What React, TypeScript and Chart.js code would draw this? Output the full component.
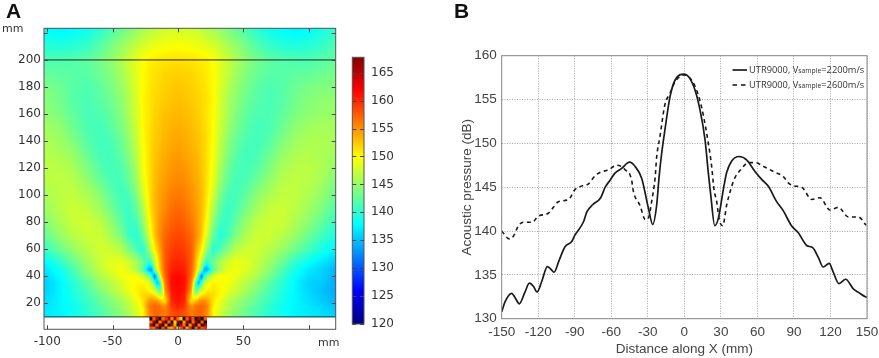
import React, { useEffect, useRef } from "react";
import { Chart, registerables } from "chart.js";
Chart.register(...registerables);

// Panel A: sound field, dB. The field is symmetric about the beam axis, so one
// half is read from the picture: rows follow `depths`, columns follow `offsets`.
const offsets = [0, 5, 10, 12, 14, 16, 18, 20, 22, 27, 32, 38, 44, 52, 60, 70, 80, 90, 100, 110, 120];
const depths = [10, 14, 18, 22, 26, 30, 35, 40, 45, 50, 60, 70, 80, 90, 100, 110, 120, 130, 140, 150, 160, 170, 180, 190, 200, 210, 224];
const fieldRows = [
  [158.5, 158, 156, 156, 156.5, 157, 157, 156, 155, 150, 147.5, 145.5, 144, 142.5, 141, 139.5, 138.5, 137.5, 137, 136.5, 136],
  [159, 158, 156, 156.5, 157, 157, 157, 156.3, 155.5, 150, 148, 146, 144.5, 143, 141.5, 139.8, 138.5, 137.5, 137, 136.5, 135.5],
  [160.5, 159.3, 155, 155.5, 156.5, 157, 157, 156.5, 156, 150.5, 148.5, 146.5, 145, 143.5, 142, 140, 138.5, 137.5, 136.8, 136, 135],
  [161, 160, 151, 151.5, 153, 154.5, 155, 155, 154.5, 151, 149, 147, 145.5, 144, 142.5, 140.5, 138.8, 137.5, 136.5, 135.5, 134.5],
  [161.3, 160.3, 153, 148, 147, 149.5, 151, 151.8, 152, 151.5, 150, 148, 146.5, 145, 143, 141, 139, 137.5, 136.3, 135.3, 134.3],
  [161.5, 160.8, 155, 146, 141, 145, 147, 148.8, 150, 151, 150.3, 149, 147.5, 145.7, 144, 141.5, 139.3, 137.5, 136, 135, 134],
  [161.7, 161.2, 156, 150, 138, 134.5, 142, 146.5, 149, 150.3, 150, 149.3, 148, 146.3, 144.8, 142, 139.8, 137.5, 135.8, 135.5, 134],
  [161.5, 161, 157, 154, 149, 138, 130.5, 139, 144, 148, 149.8, 149.7, 149, 147.5, 146, 143.5, 140.5, 138, 136.5, 135.8, 134.2],
  [160.7, 160.3, 157.5, 155, 152, 149, 144, 133.5, 133.5, 142, 146, 148.5, 149.3, 148.3, 146.8, 144.5, 141.5, 138.7, 137, 136, 134.5],
  [160.2, 159.8, 157.5, 155.5, 152.5, 149.5, 146, 143, 139.5, 143.5, 146, 148, 149, 148.5, 147.2, 145.2, 142.7, 140, 138, 136.8, 135.5],
  [159.3, 158.8, 157.5, 156, 154, 152.3, 150.3, 148, 145, 139.5, 141.5, 144, 146.5, 147.5, 147.7, 146.5, 145, 143, 141, 139, 137.5],
  [158.5, 158, 157, 156.2, 155.2, 154, 152.4, 150.3, 148, 142.5, 139.5, 141, 144, 146, 147.5, 147.5, 146.5, 145, 143, 141, 139],
  [157.7, 157.2, 156.2, 155.6, 154.8, 153.9, 152.8, 151.3, 149.5, 144.5, 141, 140.5, 142.5, 145, 146.8, 147.6, 147.4, 146, 144.5, 142.5, 140.5],
  [157, 156.5, 155.5, 155, 154.5, 153.8, 153, 151.9, 150.5, 146, 142.5, 140.5, 141.5, 143.5, 145.5, 147, 147.5, 146.6, 145.4, 143.8, 141.9],
  [156.2, 155.8, 155, 154.6, 154.2, 153.7, 153, 152.1, 151, 147.5, 143.8, 141.2, 141, 142.5, 144.5, 146, 147, 146.8, 146, 144.8, 143],
  [155.5, 155.2, 154.5, 154.2, 153.8, 153.4, 152.8, 152.1, 151.2, 148.8, 145, 142.5, 141, 141.5, 143, 145, 146.5, 146.9, 146.5, 145.5, 144],
  [155, 154.7, 154.1, 153.8, 153.5, 153.1, 152.6, 152, 151.2, 149.2, 145.8, 143.2, 141.5, 141, 142, 144, 145.8, 146.6, 146.7, 146, 144.8],
  [154.5, 154.2, 153.7, 153.5, 153.2, 152.8, 152.4, 151.9, 151.2, 149.5, 146.5, 144, 142.2, 141, 141.2, 143, 145, 146, 146.3, 146, 145.5],
  [154, 153.8, 153.3, 153.1, 152.8, 152.5, 152.2, 151.8, 151.2, 149.7, 147, 144.6, 142.8, 141.3, 141, 142, 144, 145.3, 146, 146, 145.8],
  [153.6, 153.4, 153, 152.8, 152.5, 152.3, 152, 151.6, 151.2, 149.9, 147.5, 145.2, 143.5, 142, 141, 141.5, 143, 144.7, 145.5, 145.7, 145.6],
  [153.2, 153, 152.7, 152.5, 152.3, 152, 151.8, 151.4, 151, 150, 147.8, 145.8, 144, 142.5, 141.5, 141.3, 142.5, 143.8, 144.5, 145, 145],
  [152.8, 152.6, 152.3, 152.2, 152, 151.8, 151.6, 151.3, 151, 150, 148, 146, 144.5, 143, 142, 141.3, 142, 143.3, 144.2, 144.6, 144.7],
  [152.4, 152.3, 152, 151.9, 151.7, 151.5, 151.3, 151.1, 150.8, 150, 148.3, 146.5, 145, 143.5, 142.3, 141.5, 142, 143, 143.6, 144, 144],
  [152, 151.9, 151.7, 151.6, 151.4, 151.3, 151.1, 150.9, 150.7, 149.9, 148.5, 147, 145.5, 144, 143, 142, 142, 142.3, 142.5, 143, 143.5],
  [151.2, 151.1, 151, 151, 150.9, 150.8, 150.7, 150.6, 150.5, 149.7, 148.6, 147.3, 146, 144.5, 143.3, 142.3, 141.8, 141.5, 141.5, 142, 142.5],
  [149.8, 149.6, 149.4, 149.3, 149.2, 149.1, 149, 148.8, 148.6, 148, 147.2, 146, 145, 143.5, 142, 140.5, 139.8, 139.5, 139.8, 140.5, 141.5],
  [147.5, 147.5, 147.3, 147.2, 147, 146.8, 146.6, 146.3, 146, 145.5, 144.5, 143.5, 142.5, 141, 139.5, 138.3, 137.6, 137.2, 137.5, 139, 140],
];

// Transducer block under the field: 0 marks the black cells.
const transducerX = [-20.6, -18.3, -16, -13.7, -11.4, -9.1, -6.8, -4.5, -2.2, 0.1, 2.4, 4.7, 7, 9.3, 11.6, 13.9, 16.2, 18.5, 20.8];
const transducerY = [2, 4.2, 6.4, 8.6];
const transducerRows = [
  [158, 157, 165, 0, 158, 166, 155, 154, 160, 146, 158, 165, 154, 160, 0, 157, 165, 158, 160],
  [165, 0, 157, 166, 0, 156, 0, 165, 154, 0, 165, 157, 0, 155, 165, 0, 156, 0, 165],
  [157, 166, 0, 156, 164, 0, 157, 0, 151, 166, 0, 155, 165, 0, 157, 166, 0, 157, 0],
  [0, 158, 165, 0, 157, 160, 165, 156, 165, 157, 152, 0, 158, 165, 158, 0, 165, 0, 158],
];

const axisAxTicks = ["-100", "-50", "0", "50"];
const axisAyHiddenTicks = ["220"];
const colorbarRange: [number, number] = [120, 167.76];

// Panel B: acoustic pressure against distance along X.
const solidX = [-150, -147, -141.8, -139, -135.5, -131, -127.3, -124, -121, -117, -112.5, -110, -107, -103, -98, -92.5, -90, -83, -80, -75.3, -68.7, -65, -61, -57, -51.5, -45, -40.6, -35, -29.5, -26, -22.7, -20.8, -18.6, -16, -11.8, -7.7, 0, 7.4, 12.9, 17, 19.7, 21.6, 25, 28, 32.6, 34.8, 38.9, 45, 51.3, 58, 63.5, 69, 75.8, 81.3, 88, 93.6, 100.5, 105.4, 110, 114, 119, 122, 127, 132.5, 138.8, 143, 148.6, 150];
const solidY = [130.8, 132, 132.9, 132.4, 131.7, 133, 134.05, 133.7, 133.05, 134.3, 135.95, 135.7, 135.3, 136.6, 138.2, 138.8, 139.5, 141, 142.2, 143, 143.8, 145, 145.8, 146.6, 147.15, 147.85, 147.4, 146, 142.6, 140.75, 143, 146.1, 148.9, 151.5, 155.3, 157.2, 157.9, 156.6, 153.8, 150.4, 146.6, 144.2, 140.6, 141.5, 145.2, 146.7, 148, 148.5, 148.1, 146.8, 145.9, 145.1, 143.35, 142.3, 140.6, 139.8, 138.35, 138.1, 137, 135.9, 136.3, 135.4, 134, 134.5, 133.4, 133, 132.5, 132.45];
const dashedX = [-150, -143.7, -140.4, -136.3, -132, -125, -120, -112, -107.6, -103.5, -95, -90, -84, -79, -73.4, -69, -62, -55.6, -48.7, -43, -42.4, -36.4, -32, -29.5, -26.8, -24, -22.7, -20, -16, -11.8, -7.7, 0, 6, 11.5, 15.6, 19.7, 22.5, 24.4, 26.5, 28.7, 31.5, 34.8, 38.9, 41.6, 45.7, 52.6, 58, 66, 74.5, 81.3, 85.4, 89.5, 96.4, 104.6, 111.4, 119.6, 126.5, 134.7, 143, 149.2];
const dashedY = [140, 139.1, 139.4, 140.6, 141, 141, 141.7, 142, 142.7, 143.35, 143.6, 144.7, 145.15, 145.35, 146.3, 146.7, 147, 147.5, 147, 145.6, 144.9, 142.9, 141.3, 141.5, 143.4, 146.1, 148.5, 150.8, 154.4, 155.7, 157, 157.8, 157.2, 155.5, 153.2, 150, 147.3, 144.7, 143.4, 141.3, 140.6, 143, 145.1, 146.1, 146.9, 147.8, 147.8, 147.3, 146.7, 146.2, 145.5, 145.15, 145, 143.6, 143.8, 142.4, 142.7, 141.6, 141.6, 140.65];
const legendSolid = ["UTR9000, V", "sample", "=2200m/s"];
const legendDashed = ["UTR9000, V", "sample", "=2600m/s"];

const zip = (xs: number[], ys: number[]) => xs.map((x, i) => ({ x, y: ys[i] }));

function jet(v: number): [number, number, number] {
  const t = Math.min(1, Math.max(0, (v - colorbarRange[0]) / (colorbarRange[1] - colorbarRange[0])));
  const c = (d: number) => Math.round(255 * Math.min(1, Math.max(0, 1.5 - Math.abs(4 * t - d))));
  return [c(3), c(2), c(1)];
}
const jetCss = (v: number) => (v === 0 ? "#1c0800" : `rgb(${jet(v).join(",")})`);

function bracket(list: number[], v: number) {
  let i = 0;
  while (i < list.length - 2 && list[i + 1] < v) i++;
  const f = Math.min(1, Math.max(0, (v - list[i]) / (list[i + 1] - list[i])));
  return [i, f];
}

const fieldPlugin = {
  id: "fieldPaint",
  beforeDatasetsDraw(chart: any) {
    const { ctx, chartArea: a, scales } = chart;
    const w = Math.round(a.right - a.left), h = Math.round(a.bottom - a.top);
    const off = document.createElement("canvas");
    off.width = w; off.height = h;
    const octx = off.getContext("2d")!;
    const img = octx.createImageData(w, h);
    const colX = Array.from({ length: w }, (_, px) => bracket(offsets, Math.abs(scales.x.getValueForPixel(a.left + px + 0.5))));
    for (let py = 0; py < h; py++) {
      const depth = scales.y.getValueForPixel(a.top + py + 0.5);
      if (depth < depths[0]) continue;
      const [r, fr] = bracket(depths, depth);
      for (let px = 0; px < w; px++) {
        const [c, fc] = colX[px];
        const lo = fieldRows[r][c] * (1 - fc) + fieldRows[r][c + 1] * fc;
        const hi = fieldRows[r + 1][c] * (1 - fc) + fieldRows[r + 1][c + 1] * fc;
        const [R, G, B] = jet(lo * (1 - fr) + hi * fr);
        const k = (py * w + px) * 4;
        img.data[k] = R; img.data[k + 1] = G; img.data[k + 2] = B; img.data[k + 3] = 255;
      }
    }
    octx.putImageData(img, 0, 0);
    ctx.drawImage(off, a.left, a.top);
  },
};

const framePlugin = {
  id: "frameTicks",
  afterDatasetsDraw(chart: any) {
    const { ctx, chartArea: a, scales } = chart;
    ctx.save();
    ctx.strokeStyle = "#444";
    ctx.lineWidth = 1;
    ctx.beginPath();
    scales.y.ticks.forEach((t: any) => {
      const p = Math.round(scales.y.getPixelForValue(t.value)) + 0.5;
      ctx.moveTo(a.left, p); ctx.lineTo(a.left + 4, p);
      ctx.moveTo(a.right, p); ctx.lineTo(a.right - 4, p);
    });
    if (scales.x.options.display) scales.x.ticks.forEach((t: any) => {
      const p = Math.round(scales.x.getPixelForValue(t.value)) + 0.5;
      ctx.moveTo(p, a.bottom); ctx.lineTo(p, a.bottom - 4);
      ctx.moveTo(p, a.top); ctx.lineTo(p, a.top + 4);
    });
    ctx.stroke();
    ctx.strokeStyle = "#555";
    ctx.strokeRect(a.left, a.top, a.right - a.left, a.bottom - a.top);
    ctx.restore();
  },
};

const graphiteFrame = {
  id: "graphiteFrame",
  afterDatasetsDraw(chart: any) {
    const { ctx, chartArea: a } = chart;
    ctx.save();
    ctx.strokeStyle = "#8a8a8a";
    ctx.lineWidth = 1;
    ctx.strokeRect(a.left, a.top, a.right - a.left, a.bottom - a.top);
    ctx.restore();
  },
};

const DV = "'DejaVu Sans'";
const LS = "'Liberation Sans'";

export default function App() {
  const fieldRef = useRef<HTMLCanvasElement>(null);
  const barRef = useRef<HTMLCanvasElement>(null);
  const lineRef = useRef<HTMLCanvasElement>(null);

  useEffect(() => {
    const cells: any[] = [];
    depths.forEach((y, r) => offsets.forEach((x, c) => cells.push({ x, y, v: fieldRows[r][c] })));
    const tCells: any[] = [];
    const tColors: string[] = [];
    transducerY.forEach((y, r) => transducerX.forEach((x, c) => {
      tCells.push({ x, y });
      tColors.push(jetCss(transducerRows[r][c]));
    }));

    const field = new Chart(fieldRef.current!, {
      type: "scatter",
      data: {
        datasets: [
          { label: "field", data: cells, pointRadius: 0 },
          { label: "transducer", data: tCells, pointStyle: "rect", pointRadius: 2.4, pointBorderWidth: 0, pointBackgroundColor: tColors },
          { label: "y10", data: [{ x: -102.5, y: 10 }, { x: 120.5, y: 10 }], showLine: true, pointRadius: 0, borderColor: "#333", borderWidth: 1 },
          { label: "y200", data: [{ x: -102.5, y: 200 }, { x: 120.5, y: 200 }], showLine: true, pointRadius: 0, borderColor: "#222", borderWidth: 1 },
        ],
      } as any,
      options: {
        responsive: false,
        animation: false,
        layout: { padding: { top: 28.3, right: 9.3 } },
        plugins: { legend: { display: false }, tooltip: { enabled: false } },
        scales: {
          x: {
            type: "linear", min: -102.5, max: 120.5,
            grid: { display: false, drawTicks: false }, border: { display: false },
            afterFit: (s: any) => { s.height = 28.7; },
            ticks: {
              stepSize: 50, includeBounds: false, maxRotation: 0, padding: 5, color: "#333",
              font: { family: DV, size: 12 },
              callback: (v: any) => (axisAxTicks.includes(String(v)) ? String(v) : ""),
            },
          },
          y: {
            type: "linear", min: 0.8, max: 223.4,
            grid: { display: false, drawTicks: false }, border: { display: false },
            afterFit: (s: any) => { s.width = 44; },
            ticks: {
              stepSize: 20, includeBounds: false, padding: 3, color: "#333", font: { family: DV, size: 12 },
              callback: (v: any) => (axisAyHiddenTicks.includes(String(v)) ? "" : String(v)),
            },
          },
        },
      } as any,
      plugins: [fieldPlugin, framePlugin],
    });

    const bar = new Chart(barRef.current!, {
      type: "bar",
      data: {
        labels: ["dB"],
        datasets: [{
          data: [colorbarRange],
          barPercentage: 1, categoryPercentage: 1, borderWidth: 0,
          backgroundColor: (c: any) => {
            const { chart } = c;
            const y = chart.scales.y;
            const y0 = y ? y.getPixelForValue(colorbarRange[0]) : NaN;
            const y1 = y ? y.getPixelForValue(colorbarRange[1]) : NaN;
            if (!Number.isFinite(y0) || !Number.isFinite(y1)) return "#000";
            const g = chart.ctx.createLinearGradient(0, y0, 0, y1);
            [0, 0.125, 0.375, 0.625, 0.875, 1].forEach((s) => {
              g.addColorStop(s, jetCss(colorbarRange[0] + s * (colorbarRange[1] - colorbarRange[0])));
            });
            return g;
          },
        }],
      } as any,
      options: {
        responsive: false,
        animation: false,
        layout: { padding: { top: 57.3, bottom: 34, left: 7.3 } },
        plugins: { legend: { display: false }, tooltip: { enabled: false } },
        scales: {
          x: { display: false },
          y: {
            position: "right", min: colorbarRange[0], max: colorbarRange[1],
            grid: { display: false, drawTicks: false }, border: { display: false },
            afterFit: (s: any) => { s.width = 41; },
            ticks: { stepSize: 5, includeBounds: false, padding: 7, color: "#333", font: { family: DV, size: 12 } },
          },
        },
      } as any,
      plugins: [framePlugin],
    });

    const dotted = { color: "#a6a6a6", lineWidth: 1, drawTicks: false };
    const line = new Chart(lineRef.current!, {
      type: "scatter",
      data: {
        datasets: [
          { label: "UTR9000, Vsample=2200m/s", data: zip(solidX, solidY), showLine: true, pointRadius: 0, borderColor: "#1a1a1a", borderWidth: 1.7, cubicInterpolationMode: "monotone" },
          { label: "UTR9000, Vsample=2600m/s", data: zip(dashedX, dashedY), showLine: true, pointRadius: 0, borderColor: "#1a1a1a", borderWidth: 1.6, borderDash: [4, 3.5], cubicInterpolationMode: "monotone" },
        ],
      } as any,
      options: {
        responsive: false,
        animation: false,
        layout: { padding: { top: 55.7, right: 12 } },
        plugins: { legend: { display: false }, tooltip: { enabled: false } },
        scales: {
          x: {
            type: "linear", min: -150, max: 150,
            grid: dotted, border: { display: false, dash: [1, 1.5] },
            afterFit: (s: any) => { s.height = 39.3; s.paddingRight = 0; s.paddingLeft = 0; },
            ticks: { stepSize: 30, maxRotation: 0, padding: 5, color: "#444", font: { family: LS, size: 13.5 } },
            title: { display: true, text: "Distance along X (mm)", color: "#444", font: { family: LS, size: 13.5 }, padding: { top: 0, bottom: 1 } },
          },
          y: {
            type: "linear", min: 130, max: 160,
            grid: dotted, border: { display: false, dash: [1, 1.5] },
            afterFit: (s: any) => { s.width = 61.7; },
            ticks: { stepSize: 5, padding: 5, color: "#444", font: { family: LS, size: 13.5 } },
            title: { display: true, text: "Acoustic pressure (dB)", color: "#444", font: { family: LS, size: 13.5 }, padding: { top: 19, bottom: 0 } },
          },
        },
      } as any,
      plugins: [graphiteFrame],
    });

    return () => { field.destroy(); bar.destroy(); line.destroy(); };
  }, []);

  const abs = (left: number, top: number, extra: any = {}) => ({ position: "absolute", left, top, ...extra });
  const legendText = { fontFamily: "'Open Sans'", fontSize: 9.3, color: "#333", whiteSpace: "nowrap", lineHeight: "14px" };
  const small = { fontSize: 6.8 };

  return (
    <div style={{ position: "absolute", left: 0, top: 0, width: 879, height: 358, background: "#fff", overflow: "hidden" } as any}>
      <canvas ref={fieldRef} width={345} height={358} style={abs(0, 0) as any} />
      <canvas ref={barRef} width={60} height={358} style={abs(345, 0) as any} />
      <canvas ref={lineRef} width={439} height={358} style={abs(440, 0) as any} />
      <div style={abs(6, -1, { font: `bold 21px ${LS}`, color: "#111" })}>A</div>
      <div style={abs(454, -1, { font: `bold 21px ${LS}`, color: "#111" })}>B</div>
      <div style={abs(2, 22, { font: `11px ${DV}`, color: "#333" })}>mm</div>
      <div style={abs(318, 336, { font: `11px ${DV}`, color: "#333" })}>mm</div>
      <svg width={16} height={20} style={abs(732, 67) as any}>
        <line x1={0.5} x2={15} y1={3} y2={3} stroke="#111" strokeWidth={1.6} />
        <line x1={0.5} x2={15} y1={18} y2={18} stroke="#111" strokeWidth={1.6} strokeDasharray="4.5 4" />
      </svg>
      <div style={abs(749, 63, legendText)}>{legendSolid[0]}<span style={small}>{legendSolid[1]}</span>{legendSolid[2]}</div>
      <div style={abs(749, 78, legendText)}>{legendDashed[0]}<span style={small}>{legendDashed[1]}</span>{legendDashed[2]}</div>
    </div>
  );
}
